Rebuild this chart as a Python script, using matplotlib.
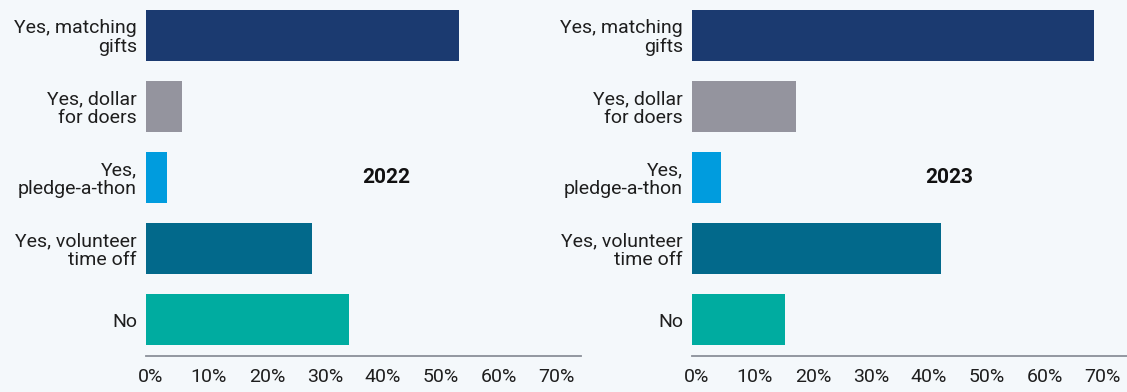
import matplotlib
matplotlib.use("Agg")
import matplotlib.pyplot as plt

# Survey categories (top to bottom) and share of respondents, in percent
categories = [
    "Yes, matching\ngifts",
    "Yes, dollar\nfor doers",
    "Yes,\npledge-a-thon",
    "Yes, volunteer\ntime off",
    "No",
]
values_2022 = [54.0, 6.2, 3.6, 28.6, 35.0]
values_2023 = [69.3, 17.9, 5.0, 42.9, 16.0]
years = ["2022", "2023"]
tick_values = [0, 10, 20, 30, 40, 50, 60, 70]
tick_labels = [f"{t}%" for t in tick_values]

bar_colors = ["#1b3a70", "#94949e", "#009cde", "#02698b", "#00aca0"]
bg = "#f4f8fb"
text_color = "#1e1e1e"

plt.rcParams["font.family"] = ["Roboto", "DejaVu Sans"]

fig = plt.figure(figsize=(11.27, 3.92), dpi=100, facecolor=bg)

W, H = 1127, 392
axis_y_px = 356
label_nudge = 0.85  # percent labels sit a little right of their gridline value
panels = [
    (146, values_2022, years[0], 41.5),
    (692, values_2023, years[1], 44.3),
]
for left_px, vals, year, year_x in panels:
    ax_w = 435
    ax = fig.add_axes([left_px / W, 1 - axis_y_px / H, ax_w / W, axis_y_px / H])
    ax.set_facecolor(bg)
    y = list(range(len(categories)))
    ax.barh(y, vals, height=0.72, color=bar_colors)
    ax.set_xlim(0, 75)
    ax.set_ylim(4.514, -0.5)
    ax.set_yticks(y)
    ax.set_yticklabels(categories, fontsize=14, color=text_color, linespacing=1.0)
    ax.set_xticks([t + label_nudge for t in tick_values])
    ax.set_xticklabels(tick_labels, fontsize=14, color=text_color)
    ax.tick_params(axis="both", length=0)
    ax.tick_params(axis="x", pad=9)
    ax.tick_params(axis="y", pad=6.5)
    for side in ["top", "right", "left"]:
        ax.spines[side].set_visible(False)
    ax.spines["bottom"].set_color("#8a8f99")
    ax.spines["bottom"].set_linewidth(1.3)
    ax.text(year_x, 2, year, fontsize=15, fontweight="bold", color="#111111",
            ha="center", va="center")

fig.savefig("out.png", dpi=100, facecolor=bg)
